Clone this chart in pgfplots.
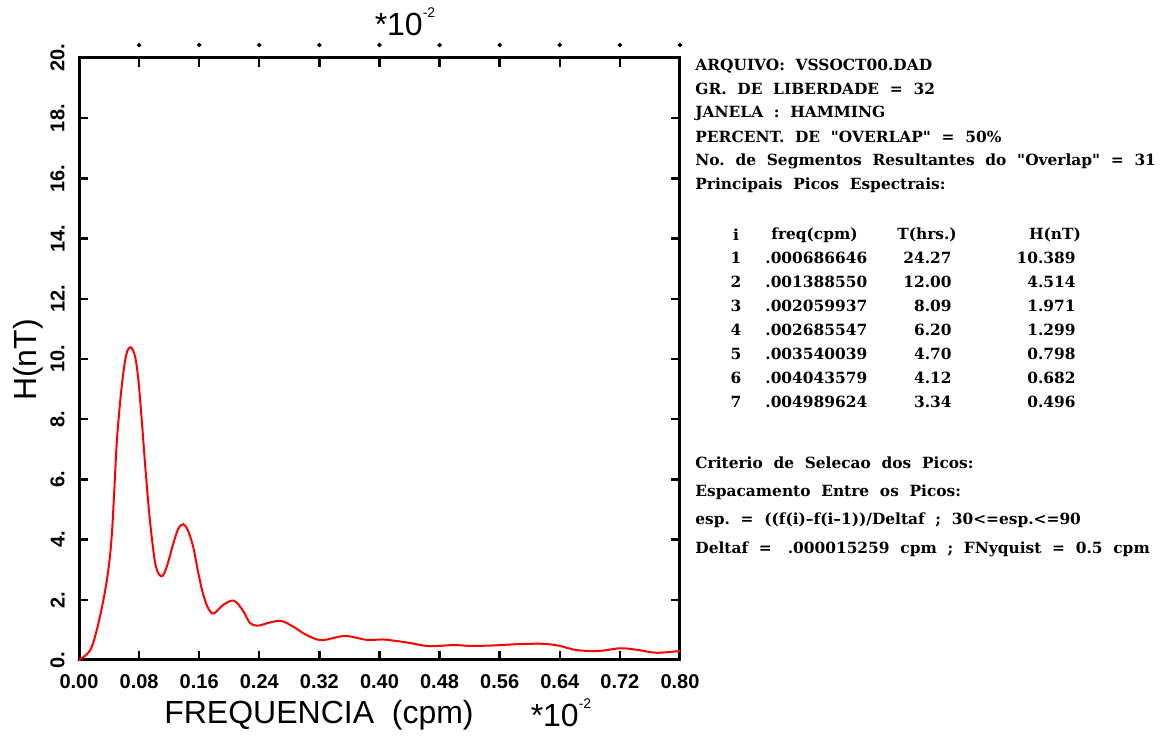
\documentclass[border=0pt]{standalone}
\usepackage{fontspec}
\setmainfont{Liberation Sans}
\newfontfamily\tabfont{DejaVu Serif}
\usepackage{pgfplots}
\pgfplotsset{compat=1.18}
\begin{document}
\begin{tikzpicture}
\path (-39.5pt,-37pt) rectangle (543.5pt,330pt);
\begin{axis}[
  at={(0pt,0pt)}, anchor=south west,
  scale only axis, width=300.5pt, height=301pt,
  xmin=0, xmax=0.8, ymin=0, ymax=20,
  xtick={0,0.08,0.16,0.24,0.32,0.40,0.48,0.56,0.64,0.72,0.80},
  xticklabels={0.00,0.08,0.16,0.24,0.32,0.40,0.48,0.56,0.64,0.72,0.80},
  ytick={0,2,4,6,8,10,12,14,16,18,20},
  yticklabels={0.,2.,4.,6.,8.,10.,12.,14.,16.,18.,20.},
  tick align=inside, major tick length=4.5pt,
  every axis/.append style={line width=1.5pt},
  tick style={black, line width=1.2pt},
  xticklabel style={font=\bfseries\fontsize{10}{12}\selectfont, yshift=-3pt},
  yticklabel style={font=\bfseries\fontsize{10}{12}\selectfont, rotate=90, anchor=south, inner ysep=6.5pt},
  clip=false,
]
\addplot[red, line width=1pt, smooth, tension=0.55] coordinates {
  (0,0)(0.0146,0.31)(0.0235,0.98)(0.0324,1.98)(0.039,2.98)(0.0435,4.09)
  (0.047,5.64)(0.0502,7.2)(0.0546,8.53)(0.059,9.53)(0.0635,10.2)
  (0.0688,10.39)(0.0746,10.09)(0.079,9.31)(0.0835,7.98)(0.0879,6.53)
  (0.0923,5.2)(0.0968,4.09)(0.1025,3.09)(0.110,2.78)(0.1167,3.09)
  (0.1256,3.87)(0.132,4.35)(0.1388,4.514)(0.145,4.3)(0.152,3.76)
  (0.158,3.0)(0.164,2.3)(0.170,1.83)(0.175,1.6)(0.180,1.55)
  (0.192,1.83)(0.206,1.971)(0.218,1.65)
  (0.228,1.22)(0.239,1.14)(0.250,1.22)(0.2686,1.299)(0.285,1.11)
  (0.303,0.83)(0.323,0.66)(0.354,0.798)(0.383,0.67)(0.404,0.682)
  (0.42,0.64)(0.442,0.56)(0.466,0.46)(0.499,0.496)(0.52,0.47)
  (0.549,0.48)(0.579,0.52)(0.615,0.54)(0.638,0.48)(0.662,0.33)
  (0.692,0.30)(0.721,0.39)(0.745,0.33)(0.769,0.24)(0.80,0.30)};
\addplot[only marks, mark=*, mark size=0.9pt, black, line width=0.4pt] coordinates {
  (0.08,20.43)(0.16,20.43)(0.24,20.43)(0.32,20.43)(0.40,20.43)
  (0.48,20.43)(0.56,20.43)(0.64,20.43)(0.72,20.43)(0.80,20.43)};
\end{axis}
% axis titles
\node[font=\fontsize{16}{19}\selectfont] at (163pt,319pt) {*10\raisebox{0.55em}{\fontsize{7}{8}\selectfont -2}};
\node[font=\fontsize{16}{19}\selectfont] at (120pt,-27.5pt) {FREQUENCIA\ \ (cpm)};
\node[font=\fontsize{16}{19}\selectfont] at (241pt,-26.5pt) {*10\raisebox{0.55em}{\fontsize{7}{8}\selectfont -2}};
\node[font=\fontsize{16}{19}\selectfont, rotate=90] at (-25.5pt,150pt) {H(nT)};
% info text
\begin{scope}[x=1pt, y=1pt, every node/.style={font=\tabfont\bfseries\fontsize{7.7}{9}\selectfont, inner sep=0pt}]
\node[anchor=west] at (308,297) {ARQUIVO:\ \ VSSOCT00.DAD};
\node[anchor=west] at (308,285.5) {GR.\ \ DE\ \ LIBERDADE\ \ =\ \ 32};
\node[anchor=west] at (308,273.5) {JANELA\ \ :\ \ HAMMING};
\node[anchor=west] at (308,261.5) {PERCENT.\ \ DE\ \ "OVERLAP"\ \ =\ \ 50\%};
\node[anchor=west] at (308,249.5) {No.\ \ de\ \ Segmentos\ \ Resultantes\ \ do\ \ "Overlap"\ \ =\ \ 31};
\node[anchor=west] at (308,237.5) {Principais\ \ Picos\ \ Espectrais:};
\node at (328.5,212.5) {i};
\node[anchor=west] at (346,212.5) {freq(cpm)};
\node at (424,212.5) {T(hrs.)};
\node at (488,212.5) {H(nT)};
\foreach \i/\f/\t/\h [count=\k from 0] in {1/.000686646/24.27/10.389, 2/.001388550/12.00/4.514,
  3/.002059937/8.09/1.971, 4/.002685547/6.20/1.299, 5/.003540039/4.70/0.798,
  6/.004043579/4.12/0.682, 7/.004989624/3.34/0.496} {
  \node at (328.5,201-12*\k) {\i};
  \node[anchor=west] at (343,201-12*\k) {\f};
  \node[anchor=east] at (436.5,201-12*\k) {\t};
  \node[anchor=east] at (498.5,201-12*\k) {\h};
}
\node[anchor=west] at (308,98.5) {Criterio\ \ de\ \ Selecao\ \ dos\ \ Picos:};
\node[anchor=west] at (308,84) {Espacamento\ \ Entre\ \ os\ \ Picos:};
\node[anchor=west] at (308,70) {esp.\ \ =\ \ ((f(i)\textendash f(i\textendash 1))/Deltaf\ \ ;\ \ 30<=esp.<=90};
\node[anchor=west] at (308,55.5) {Deltaf\ \ =\ \ \ .000015259\ \ cpm\ \ ;\ \ FNyquist\ \ =\ \ 0.5\ \ cpm};
\end{scope}
\end{tikzpicture}
\end{document}
